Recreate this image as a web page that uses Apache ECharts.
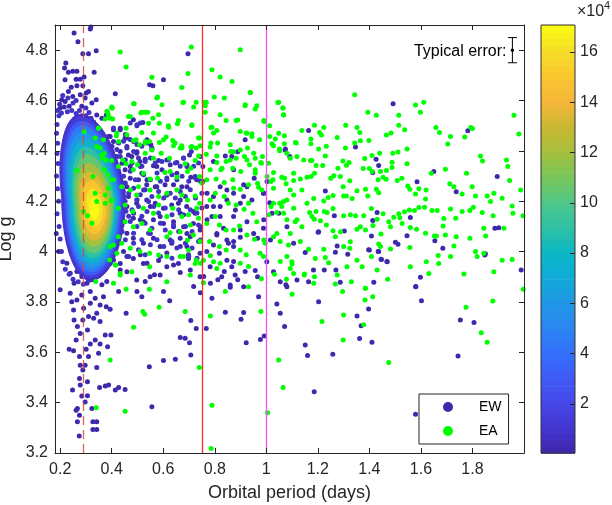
<!DOCTYPE html>
<html>
<head>
<meta charset="utf-8">
<script src="https://cdn.jsdelivr.net/npm/echarts@6/dist/echarts.min.js"></script>
<style>html,body{margin:0;padding:0;background:#fff}#c{width:612px;height:505px}</style>
</head>
<body>
<div id="c"></div>
<script>
// ---------- DATA ----------
const xTicks = [0.2,0.4,0.6,0.8,1,1.2,1.4,1.6,1.8];
const yTicks = [3.2,3.4,3.6,3.8,4,4.2,4.4,4.6,4.8];
const cbTicks = [2,4,6,8,10,12,14,16];
const xRange = [0.18, 2.0];
const yRange = [3.2, 4.9];
const cbRange = [0.05, 17.07];           // colour bar, x10^4
const periodLines = [0.29, 0.75, 1.0];   // days
const errX = [1.955], errY = [4.8], errHalf = [0.05];
const errLabel = 'Typical error:';

// density core of EW stars (x10^4), nested contours
const coreDensity = [0.8, 1.5, 3, 4.5, 6, 7.5, 9, 10.5, 12, 13.5, 15, 16.2, 17];
const coreCx  = [0.318,0.318,0.319,0.320,0.322,0.324,0.326,0.328,0.330,0.331,0.332,0.333,0.333];
const coreCy  = [4.215,4.215,4.212,4.210,4.205,4.200,4.195,4.190,4.185,4.180,4.177,4.175,4.172];
const coreRxL = [0.112,0.106,0.100,0.094,0.088,0.082,0.075,0.068,0.060,0.052,0.041,0.029,0.016];
const coreRxR = [0.136,0.126,0.118,0.110,0.102,0.094,0.085,0.078,0.068,0.058,0.045,0.032,0.018];
const coreRy  = [0.330,0.318,0.305,0.290,0.270,0.245,0.220,0.195,0.165,0.135,0.105,0.075,0.045];

// EW stars in the crowded zone next to the core (slightly higher density colour)
const ewDensePoints = [
[0.190,4.560],[0.195,4.540],[0.205,4.550],[0.228,4.555],[0.245,4.560],[0.262,4.548],[0.275,4.560],[0.300,4.570],[0.312,4.552],[0.320,4.530],[0.330,4.515],[0.300,4.540],[0.285,4.540],[0.250,4.590],[0.262,4.600],[0.230,4.610],[0.210,4.620],[0.198,4.585],[0.188,4.505],[0.186,4.470],[0.190,4.430],[0.188,4.390],[0.192,4.350],[0.186,4.300],[0.190,4.250],[0.194,4.200],[0.188,4.150],[0.196,4.100],[0.200,4.050],[0.205,4.000],[0.210,3.960],[0.220,3.930],[0.235,3.910],[0.250,3.890],[0.270,3.880],[0.290,3.870],[0.310,3.885],[0.330,3.890],[0.350,3.905],[0.365,3.925],[0.380,3.950],[0.395,3.980],[0.410,4.010],[0.425,4.040],[0.440,4.080],[0.450,4.120],[0.455,4.160],[0.452,4.200],[0.445,4.240],[0.430,4.270],[0.415,4.300],[0.400,4.330],[0.385,4.360],[0.370,4.390],[0.355,4.420],[0.340,4.450],[0.325,4.480],[0.312,4.505],
[0.407,4.491],[0.472,4.511],[0.498,4.504],[0.511,4.511],[0.453,4.465],
[0.427,4.431],[0.446,4.438],[0.472,4.445],[0.498,4.425],[0.517,4.418],[0.537,4.431],[0.556,4.405],[0.420,4.405],[0.401,4.418],[0.459,4.411],[0.485,4.398],[0.679,4.372],[0.709,4.398],
[0.433,4.378],[0.453,4.365],[0.479,4.352],[0.504,4.372],[0.530,4.358],[0.550,4.372],[0.569,4.352],[0.595,4.358],[0.621,4.365],[0.647,4.352],[0.666,4.339],[0.692,4.345],[0.718,4.339],[0.737,4.352],[0.407,4.345],[0.517,4.339],
[0.427,4.312],[0.446,4.299],[0.472,4.319],[0.492,4.285],[0.524,4.305],[0.550,4.285],[0.576,4.312],[0.589,4.279],[0.614,4.292],[0.634,4.305],[0.653,4.285],[0.673,4.299],[0.699,4.279],[0.725,4.292],[0.744,4.279],[0.453,4.272],
[0.433,4.246],[0.466,4.232],[0.485,4.252],[0.511,4.226],[0.530,4.246],[0.556,4.219],[0.582,4.239],[0.602,4.213],[0.627,4.232],[0.647,4.213],[0.666,4.239],[0.686,4.219],[0.705,4.246],[0.725,4.213],[0.750,4.232],[0.498,4.206],[0.543,4.199],
[0.453,4.179],[0.479,4.166],[0.504,4.179],[0.537,4.159],[0.563,4.179],[0.582,4.153],[0.608,4.173],[0.634,4.146],[0.660,4.166],[0.679,4.146],[0.705,4.166],[0.731,4.153],[0.750,4.173],[0.466,4.140],[0.517,4.140],
[0.440,4.106],[0.472,4.120],[0.498,4.100],[0.530,4.113],[0.556,4.093],[0.589,4.113],[0.608,4.086],[0.640,4.106],[0.660,4.080],[0.686,4.100],[0.712,4.080],[0.737,4.106],[0.485,4.073],[0.543,4.073],
[0.453,4.047],[0.485,4.033],[0.517,4.047],[0.550,4.027],[0.576,4.047],[0.602,4.020],[0.634,4.040],[0.653,4.014],[0.686,4.033],[0.712,4.014],[0.737,4.040],[0.504,4.007],
[0.466,3.980],[0.530,3.987],[0.589,3.980],[0.634,3.974],[0.699,3.980],[0.731,3.974]
];

const ewPoints = [
[0.254,4.868],[0.269,4.833],[0.288,4.786],[0.310,4.786],[0.317,4.884],[0.319,4.892],[0.340,4.798],[0.222,4.749],[0.217,4.729],[0.232,4.712],[0.249,4.716],[0.265,4.716],[0.219,4.683],[0.262,4.685],[0.278,4.685],[0.293,4.693],[0.332,4.712],[0.243,4.653],[0.265,4.659],[0.288,4.659],[0.232,4.636],[0.249,4.616],[0.301,4.630],[0.310,4.636],[0.278,4.623],[0.297,4.610],[0.206,4.603],[0.219,4.596],[0.235,4.577],[0.200,4.570],[0.216,4.574],[0.284,4.577],[0.340,4.603],[0.323,4.590],[0.342,4.543],[0.362,4.530],[0.379,4.543],[0.414,4.627],[0.498,4.500],[0.521,4.513],[0.547,4.663],[0.560,4.659],[0.601,4.683],[0.696,4.786],[0.407,4.484],[0.433,4.490],[0.452,4.451],[0.485,4.437],[0.537,4.444],[0.552,4.424],[0.394,4.457],[0.381,4.431],[0.349,4.477],
[0.754,4.278],[0.754,4.338],[0.841,4.380],[0.889,4.397],[0.918,4.444],[0.990,4.232],[1.003,4.278],[1.013,4.194],[1.074,4.407],[1.091,4.378],[0.185,4.072],
[0.744,4.378],[0.795,4.358],[0.873,4.325],[0.912,4.265],[0.944,4.205],[0.880,4.165],[0.821,4.139],[0.770,4.126],[0.724,4.152],[0.666,4.205],[0.614,4.225],[0.575,4.258],[0.537,4.285],[0.511,4.338],[0.478,4.378],[0.440,4.351],[0.420,4.298],[0.459,4.258],[0.498,4.205],[0.550,4.179],[0.588,4.139],[0.640,4.099],[0.692,4.072],[0.744,4.046],[0.795,4.026],[0.847,4.046],[0.899,4.086],[0.951,4.072],[0.990,4.126],[1.048,4.152],[1.080,4.099],[1.016,4.046],[1.106,4.033],
[0.459,4.417],[0.498,4.397],[0.420,4.378],[0.472,4.338],[0.401,4.338],[0.433,4.285],[0.517,4.311],[0.575,4.338],[0.614,4.364],[0.653,4.311],[0.692,4.338],[0.724,4.298],[0.614,4.285],[0.692,4.258],[0.770,4.232],[0.795,4.179],[0.847,4.205],[0.899,4.192],[0.821,4.258],[0.873,4.232],[0.666,4.152],[0.744,4.099],[0.808,4.072],[0.873,4.020],[0.692,4.020],[0.627,4.046],[0.550,4.072],[0.511,4.126],[0.485,4.152],[0.459,4.179],[0.433,4.205],[0.524,4.245],
[0.484,4.524],[0.459,4.451],[0.433,4.484],[0.407,4.437],[0.387,4.457],[0.556,4.411],[0.530,4.367],[0.562,4.341],[0.582,4.362],[0.595,4.325],[0.627,4.345],[0.653,4.354],[0.679,4.371],[0.702,4.384],[0.707,4.295],[0.730,4.285],[0.795,4.219],[0.769,4.179],[0.789,4.139],[0.808,4.066],[0.834,4.093],[0.853,4.033],[0.873,4.040],[0.899,4.057],[0.818,3.993],[0.847,3.966],[0.866,3.940],[0.879,3.907],[0.912,3.860],[1.002,3.960],[1.028,3.920],[1.054,3.880],[1.080,3.860],[1.119,3.887],[1.164,3.880],[1.183,3.927],[1.203,4.079],[1.164,4.481],[1.073,4.404],[0.953,4.291],[0.989,4.232],[1.022,4.152],[0.989,4.093],[0.966,4.053],[0.705,3.927],[0.743,3.900],[0.549,3.900],[0.523,3.953],[0.484,3.973],[0.446,4.000],[0.433,3.953],[0.614,3.940],[0.659,3.953],[0.698,3.973],[0.743,3.993],[0.769,4.000],[0.666,4.020],[0.633,4.033],[0.588,4.020],[0.562,4.053],[0.523,4.033],[0.484,4.053],[0.459,4.073],[0.433,4.099],[0.407,4.073],[0.413,4.139],[0.439,4.146],[0.484,4.132],[0.523,4.119],[0.562,4.126],[0.601,4.112],[0.640,4.119],[0.679,4.099],[0.717,4.112],[0.743,4.086],[0.705,4.059],[0.666,4.053],[0.465,4.219],[0.497,4.192],[0.536,4.205],[0.569,4.192],[0.601,4.172],[0.633,4.185],[0.659,4.192],[0.691,4.179],[0.717,4.159],[0.446,4.272],[0.472,4.291],[0.504,4.285],[0.536,4.265],[0.569,4.258],[0.607,4.265],[0.640,4.265],[0.672,4.258],[0.420,4.311],[0.452,4.325],[0.433,4.398],[0.465,4.384],[0.497,4.391],[0.510,4.358],[0.394,4.331],[0.381,4.285],[0.400,4.239],[0.374,3.986],[0.394,3.953],[0.459,3.920],[0.497,3.887],[0.588,3.907],[0.782,3.940],[0.827,3.900],[0.860,3.867],[0.966,3.900],[0.925,4.258],[0.912,4.219],[0.847,4.245],[0.821,4.179],[0.873,4.139],[0.925,4.119],[0.866,4.378],
[0.200,3.848],[0.239,3.835],[0.245,3.801],[0.254,3.874],[0.252,3.768],[0.254,3.728],[0.267,3.702],[0.278,3.675],[0.262,3.649],[0.235,3.612],[0.252,3.606],[0.275,3.583],[0.278,3.549],[0.288,3.530],[0.275,3.496],[0.278,3.470],[0.248,3.450],[0.284,3.426],[0.267,3.377],[0.262,3.370],[0.275,3.350],[0.267,3.324],[0.274,3.268],[0.306,3.427],[0.297,3.403],[0.323,3.377],[0.327,3.324],[0.342,3.324],[0.342,3.293],[0.327,3.293],[0.306,3.483],[0.297,3.549],[0.310,3.583],[0.301,3.612],[0.317,3.633],[0.336,3.649],[0.355,3.633],[0.349,3.596],[0.342,3.540],[0.384,3.622],[0.375,3.669],[0.397,3.669],[0.353,3.460],[0.375,3.466],[0.388,3.470],[0.414,3.450],[0.427,3.460],[0.452,3.452],[0.556,3.384],[0.546,3.543],[0.601,3.567],[0.647,3.572],[0.666,3.659],[0.685,3.656],[0.702,3.638],[0.707,3.589],[0.707,3.726],[0.728,3.695],[0.767,3.695],[0.789,3.815],[0.841,3.759],[0.902,3.731],[0.912,3.758],[0.922,3.638],[0.977,3.651],[0.992,3.665],[1.041,3.792],[1.054,3.755],[1.071,3.702],[1.076,3.868],
[0.427,3.841],[0.456,3.755],[0.498,3.841],[0.517,3.821],[0.530,3.881],[0.566,3.908],[0.601,3.841],[0.625,3.805],[0.640,3.947],[0.666,3.917],[0.718,3.861],[0.744,3.837],[0.757,3.901],[0.783,3.874],[0.812,3.888],[0.837,3.921],[0.860,3.858],[0.889,3.888],[0.918,3.921],[0.957,3.925],[0.970,3.821],[0.873,3.961],[0.537,3.954],[0.582,3.965],[0.459,3.980],[0.511,3.987],[0.614,3.994],[0.698,3.987],
[0.194,4.000],[0.226,3.954],[0.239,3.914],[0.265,3.921],[0.284,3.901],[0.304,3.874],[0.323,3.888],[0.342,3.921],[0.362,3.868],[0.381,3.881],[0.368,3.821],[0.355,3.788],[0.379,3.781],[0.394,3.771],[0.317,3.795],[0.291,3.775],[0.265,3.808],[0.310,3.742],[0.342,3.755],[0.330,3.735],[0.288,3.728],[0.306,3.689],[0.355,3.722],[0.317,3.841],[0.336,3.815],[0.284,3.828],[0.297,3.934],[0.381,3.941],[0.407,3.967],[0.433,3.927],
[1.151,3.996],[1.225,3.927],[1.270,3.927],[1.287,3.878],[1.203,3.801],[1.151,3.629],[1.160,3.587],[1.186,3.443],[1.258,3.592],[1.397,4.007],[1.434,4.000],[1.445,3.970],[1.468,3.961],[1.417,3.878],[1.397,3.772],[1.352,3.744],[1.368,3.705],[1.362,3.655],[1.410,3.640],[1.580,3.861],[1.598,3.898],[1.602,3.805],[1.753,3.728],[1.806,3.718],[1.744,3.585],[1.579,3.354],[1.850,3.991],[1.989,3.927],
[1.492,4.587],[1.346,4.415],[1.426,4.367],[1.436,4.342],[1.413,4.314],[1.650,4.318],[1.585,4.277],[1.896,4.298],[1.737,4.238],[1.229,4.241],[1.430,4.155],[1.264,4.142],[1.413,4.123],[1.559,4.135],[1.201,4.077],[1.303,4.082],[1.408,4.062],[1.546,4.063],[1.654,4.043],[1.501,4.037],[1.511,4.029],[1.685,4.013],[1.275,4.022],[1.268,3.997],[1.316,3.989],[1.400,4.006],[1.436,4.000],[1.447,3.969],[1.469,3.960],[1.848,3.986],[1.887,4.093],[1.902,4.095],[1.580,3.860],[1.782,4.480]
];

const eaPoints = [
[0.433,4.793],[0.456,4.733],[0.709,4.813],[0.899,4.802],[0.696,4.707],[0.789,4.722],[0.821,4.693],[0.867,4.676],[0.938,4.632],[0.556,4.692],[0.575,4.610],[0.676,4.592],[0.672,4.652],[0.718,4.574],[0.759,4.592],[0.763,4.579],[0.837,4.610],[0.889,4.523],[0.918,4.579],[0.957,4.566],[0.990,4.521],[1.013,4.500],[1.045,4.592],[1.065,4.570],[1.067,4.543],[1.048,4.470],[1.070,4.460],[1.113,4.433],[0.485,4.587],[0.401,4.570],[0.381,4.557],[0.394,4.530],[0.349,4.490],[0.465,4.537],[0.513,4.550],[0.530,4.553],[0.560,4.530],[0.621,4.494],[0.659,4.521],[0.711,4.501],[0.785,4.493],[0.808,4.481],[0.899,4.477],[0.925,4.470],[0.944,4.457],[0.974,4.444],[0.981,4.351],[1.009,4.351],[1.028,4.420],[1.052,4.401],[0.456,4.490],[0.418,4.460],[0.368,4.444],[0.342,4.417],[0.362,4.384],[0.427,4.437],[0.485,4.441],[0.508,4.424],[0.530,4.431],[0.601,4.444],[0.640,4.420],[0.672,4.411],[0.711,4.417],[0.737,4.451],[0.728,4.411],[0.785,4.431],[0.767,4.387],[0.808,4.380],[0.828,4.331],[0.873,4.397],[0.860,4.364],[0.915,4.378],[0.951,4.391],[0.957,4.311],[0.966,4.271],[1.003,4.298],[1.026,4.285],[1.071,4.291],[1.093,4.245],[1.106,4.311],[1.080,4.205],[1.052,4.192],[1.018,4.179],[1.067,4.152],[1.106,4.172],[1.093,4.072],[1.119,4.126],[1.041,4.072],[0.990,4.046],
[0.293,4.477],[0.327,4.298],[0.336,4.232],[0.342,4.199],[0.375,4.225],[0.375,4.192],[0.397,4.203],[0.306,4.142],[0.323,4.113],[0.290,4.159],[0.265,4.322],[0.355,4.411],[0.366,4.371],[0.371,4.325],[0.336,4.451],[0.400,4.285],[0.426,4.059],[0.407,4.026],[0.392,3.967],[0.416,3.947],[0.433,3.907],[0.400,4.574],[0.384,4.553],[0.349,4.491],[0.375,4.527],[0.404,4.527],
[0.578,4.614],[0.595,4.583],[0.487,4.587],[0.679,4.593],[0.728,4.593],[0.767,4.593],[0.798,4.614],[0.938,4.632],[0.918,4.583],[0.963,4.579],[1.048,4.593],[1.064,4.570],[1.067,4.544],[0.402,4.570],[0.387,4.544],[0.472,4.537],[0.517,4.553],[0.540,4.553],[0.582,4.544],[0.585,4.510],[0.543,4.510],[0.620,4.500],[0.655,4.508],[0.711,4.504],[0.763,4.553],[0.789,4.494],[0.821,4.544],[0.844,4.521],[0.883,4.521],[0.922,4.471],[0.944,4.468],[0.992,4.517],[1.013,4.457],[1.035,4.447],[1.070,4.428],[1.116,4.431],[1.138,4.481],[1.173,4.447],[1.173,4.428],
[0.420,4.471],[0.459,4.464],[0.495,4.444],[0.517,4.473],[0.562,4.471],[0.530,4.437],[0.547,4.437],[0.585,4.433],[0.611,4.455],[0.637,4.441],[0.646,4.431],[0.672,4.420],[0.707,4.415],[0.741,4.451],[0.743,4.420],[0.782,4.415],[0.795,4.471],[0.811,4.431],[0.860,4.424],[0.862,4.398],[0.899,4.404],[0.927,4.411],[0.883,4.371],[0.925,4.364],[0.957,4.371],[0.979,4.354],[0.985,4.378],[1.022,4.428],[1.051,4.407],[1.093,4.371],[1.080,4.391],[1.119,4.378],[1.145,4.364],[1.171,4.362],
[0.371,4.391],[0.378,4.364],[0.400,4.362],[0.426,4.338],[0.443,4.364],[0.456,4.349],[0.478,4.358],[0.484,4.325],[0.500,4.345],[0.530,4.391],[0.556,4.404],[0.562,4.371],[0.592,4.391],[0.624,4.371],[0.666,4.411],[0.685,4.349],[0.707,4.331],[0.724,4.362],[0.737,4.380],[0.782,4.325],[0.808,4.354],[0.824,4.325],[0.844,4.358],[0.870,4.331],[0.901,4.318],[0.935,4.345],[0.957,4.325],[1.028,4.314],[1.060,4.295],[1.077,4.269],[1.106,4.282],[1.132,4.288],[1.158,4.295],[1.018,4.278],
[0.523,4.311],[0.549,4.288],[0.578,4.291],[0.607,4.314],[0.627,4.318],[0.653,4.295],[0.694,4.318],[0.741,4.298],[0.750,4.272],[0.769,4.285],[0.805,4.288],[0.837,4.274],[0.870,4.285],[0.873,4.252],[0.899,4.248],[0.931,4.265],[0.970,4.256],[0.983,4.245],[1.028,4.252],[1.067,4.199],[1.060,4.179],[1.106,4.225],[1.138,4.245],[1.158,4.192],[1.168,4.155],[1.186,4.128],
[0.386,4.305],[0.407,4.285],[0.387,4.252],[0.439,4.258],[0.472,4.245],[0.504,4.258],[0.497,4.225],[0.549,4.245],[0.582,4.219],[0.614,4.232],[0.653,4.245],[0.672,4.225],[0.694,4.205],[0.724,4.221],[0.730,4.172],[0.741,4.192],[0.782,4.205],[0.802,4.232],[0.837,4.219],[0.853,4.192],[0.883,4.185],[0.914,4.168],[0.931,4.192],[0.948,4.152],[0.963,4.119],[1.028,4.192],[1.041,4.155],[1.009,4.146],[1.080,4.126],[1.112,4.119],[1.138,4.099],
[0.400,4.205],[0.426,4.172],[0.452,4.185],[0.482,4.159],[0.523,4.172],[0.562,4.152],[0.582,4.185],[0.614,4.139],[0.637,4.172],[0.672,4.139],[0.698,4.146],[0.705,4.106],[0.737,4.132],[0.769,4.112],[0.802,4.139],[0.818,4.106],[0.844,4.086],[0.873,4.086],[0.896,4.102],[0.925,4.066],[0.954,4.049],[0.996,4.033],[1.028,4.059],[1.054,4.040],[1.086,4.026],[1.132,4.040],[1.164,4.009],[1.099,3.960],[1.093,3.933],[1.106,3.913],[1.147,3.907],
[0.452,4.119],[0.484,4.099],[0.517,4.112],[0.549,4.086],[0.614,4.059],[0.627,4.075],[0.666,4.079],[0.694,4.046],[0.717,4.066],[0.743,4.040],[0.780,4.040],[0.818,4.020],[0.844,4.006],[0.899,4.006],[0.976,3.993],[0.989,3.980],[0.394,4.020],[0.420,3.993],[0.439,4.033],[0.472,4.013],[0.510,4.000],[0.547,3.993],[0.582,3.986],[0.614,3.980],[0.666,3.980],[0.698,4.006],[0.724,3.953],[0.756,3.966],[0.795,3.960],[0.808,3.933],[0.433,3.913],[0.478,3.920],[0.547,3.940],[0.614,3.880],[0.705,3.907],[0.756,3.876],[0.931,3.860],[0.407,3.874],
[1.343,4.623],[1.394,4.553],[1.427,4.542],[1.514,4.542],[1.579,4.582],[1.611,4.593],[1.598,4.553],[1.961,4.542],[1.980,4.467],[1.187,4.502],[1.223,4.493],[1.207,4.473],[1.214,4.463],[1.275,4.453],[1.308,4.502],[1.352,4.493],[1.363,4.473],[1.343,4.431],[1.365,4.440],[1.398,4.441],[1.466,4.463],[1.484,4.471],[1.514,4.502],[1.537,4.484],[1.658,4.493],[1.672,4.473],[1.715,4.457],[1.770,4.455],[1.794,4.493],[1.800,4.489],[1.704,4.427],
[1.233,4.418],[1.203,4.407],[1.229,4.380],[1.307,4.411],[1.382,4.370],[1.410,4.382],[1.440,4.391],[1.491,4.391],[1.511,4.396],[1.546,4.407],[1.177,4.362],[1.193,4.342],[1.219,4.342],[1.278,4.331],[1.297,4.360],[1.311,4.343],[1.321,4.354],[1.376,4.330],[1.400,4.330],[1.411,4.318],[1.443,4.318],[1.453,4.295],[1.466,4.322],[1.488,4.355],[1.488,4.334],[1.546,4.349],[1.187,4.311],[1.174,4.298],[1.250,4.291],[1.262,4.301],[1.287,4.298],[1.324,4.281],[1.298,4.258],[1.300,4.221],[1.311,4.221],[1.333,4.211],[1.352,4.242],[1.385,4.248],[1.394,4.221],[1.427,4.248],[1.436,4.234],[1.434,4.285],[1.465,4.287],[1.508,4.282],[1.526,4.291],[1.549,4.261],[1.557,4.248],[1.592,4.250],[1.579,4.229],[1.620,4.245],[1.618,4.209],[1.640,4.311],[1.695,4.327],[1.712,4.269],[1.728,4.258],[1.760,4.229],[1.777,4.311],[1.799,4.258],[1.812,4.221],[1.831,4.380],[1.839,4.360],[1.932,4.364],[1.937,4.338],[1.944,4.282],[1.987,4.245],[1.883,4.232],[1.857,4.221],[1.915,4.212],[1.870,4.199],[1.954,4.181],[1.957,4.152],[1.996,4.142],
[1.184,4.211],[1.223,4.201],[1.240,4.215],[1.259,4.223],[1.193,4.159],[1.177,4.139],[1.225,4.159],[1.236,4.155],[1.259,4.171],[1.210,4.122],[1.233,4.106],[1.259,4.083],[1.300,4.142],[1.326,4.146],[1.346,4.142],[1.378,4.142],[1.408,4.171],[1.430,4.128],[1.453,4.150],[1.475,4.119],[1.495,4.136],[1.514,4.150],[1.536,4.158],[1.555,4.165],[1.575,4.163],[1.592,4.175],[1.614,4.176],[1.643,4.163],[1.663,4.163],[1.689,4.131],[1.715,4.169],[1.735,4.132],[1.760,4.159],[1.790,4.163],[1.803,4.176],[1.838,4.155],[1.880,4.142],[1.844,4.093],[1.851,4.062],[1.922,4.093],
[1.352,4.089],[1.365,4.099],[1.385,4.086],[1.414,4.104],[1.445,4.070],[1.436,4.030],[1.443,4.020],[1.482,4.099],[1.518,4.134],[1.527,4.112],[1.559,4.096],[1.583,4.089],[1.618,4.073],[1.652,4.062],[1.660,4.062],[1.686,4.102],[1.695,4.066],[1.728,4.022],[1.737,4.059],[1.790,4.053],[1.812,4.000],[1.818,3.980],[1.844,3.993],[1.883,3.920],[1.915,3.966],[1.954,3.969],[1.268,4.059],[1.288,4.079],[1.326,4.039],[1.324,4.013],[1.300,4.020],[1.223,4.009],[1.229,3.977],[1.190,3.973],[1.242,3.956],[1.313,3.940],[1.352,3.966],[1.372,3.940],[1.408,3.980],[1.430,3.927],[1.482,4.010],[1.557,4.016],[1.559,3.940],[1.621,3.960],[1.669,3.953],[1.667,3.984],[1.715,3.980],[1.767,3.911],[1.631,3.913],[1.184,3.874],[1.187,3.900],[1.275,3.907],[1.330,3.880],[1.385,3.854],[1.471,3.890],[1.268,3.871],
[0.456,3.850],[0.546,3.850],[0.521,3.762],[0.528,3.751],[0.485,3.699],[0.584,3.779],[0.685,3.762],[0.841,3.841],[0.783,3.744],[0.979,3.762],[1.100,3.831],[1.048,3.569],[1.065,3.460],[1.005,3.360],[0.789,3.390],[0.786,3.218],[0.740,3.540],[0.394,3.569],[0.340,3.380],[0.452,3.366],
[0.414,3.947],[0.338,3.881],[0.679,3.980],[0.728,3.967],[0.744,3.954],[0.783,3.983],[0.821,3.954],[0.899,3.954],[0.922,3.987],[0.931,3.941],[0.981,3.892],[1.032,3.910],[1.054,3.961],[1.080,3.980],[1.100,3.951],[1.078,3.890],
[1.296,3.841],[1.384,3.854],[1.413,3.821],[1.383,3.808],[1.378,3.709],[1.300,3.748],[1.298,3.649],[1.216,3.722],[1.475,3.559],[1.775,3.779],[1.879,3.804],[1.834,3.678],[1.857,3.640],[1.997,3.850],[1.148,3.911]
];

// ---------- STYLE ----------
const FONT = 'Liberation Sans, Arial, Helvetica, sans-serif';
const TXT = '#262626';
const EW_COLOR = '#3E29AC';
const EW_DENSE_COLOR = '#4034C4';
const EA_COLOR = '#00FF00';
const coreSkew = -0.12;
const parulaStops = [
 [0.05,'#3E26A8'],[1,'#4435D0'],[2,'#4646E6'],[3,'#4059F6'],[4,'#336FFA'],[5,'#2B85F2'],
 [6,'#2196E6'],[7,'#12AADA'],[8,'#0BB7C4'],[9,'#2DC1A6'],[10,'#4DC78A'],[11,'#76C65A'],
 [12,'#A4C03F'],[13,'#C8B832'],[14,'#F4B63A'],[15,'#FCC530'],[16,'#F5DC28'],[17.07,'#F9FB14']
];
function hex2rgb(h){return [parseInt(h.substr(1,2),16),parseInt(h.substr(3,2),16),parseInt(h.substr(5,2),16)];}
function parula(v){
  if (v<=parulaStops[0][0]) return parulaStops[0][1];
  for (let i=1;i<parulaStops.length;i++){
    if (v<=parulaStops[i][0]){
      const a=parulaStops[i-1], b=parulaStops[i];
      const t=(v-a[0])/(b[0]-a[0]);
      const ca=hex2rgb(a[1]), cb=hex2rgb(b[1]);
      const c=ca.map((x,k)=>Math.round(x+(cb[k]-x)*t));
      return 'rgb('+c.join(',')+')';
    }
  }
  return parulaStops[parulaStops.length-1][1];
}

const chart = echarts.init(document.getElementById('c'), null, {renderer:'canvas'});

function mainAxisCommon(){
  return {
    type:'value', gridIndex:0, z:10,
    axisLine:{show:true,onZero:false,lineStyle:{color:TXT,width:1}},
    splitLine:{show:false}
  };
}
function ticks(vals){ return {show:true,inside:true,length:5,lineStyle:{color:TXT},customValues:vals}; }

const option = {
  animation:false,
  backgroundColor:'#ffffff',
  textStyle:{fontFamily:FONT},
  grid:[
    {left:55, top:25, width:469, height:428, containLabel:false, outerBoundsMode:'none'},
    {left:541, top:25, width:34, height:428, containLabel:false, outerBoundsMode:'none'}
  ],
  legend:{
    data:['EW','EA'], orient:'vertical', left:419, top:394,
    itemWidth:10, itemHeight:10, itemGap:10, icon:'circle',
    padding:[6,7,6,24], borderColor:TXT, borderWidth:1, backgroundColor:'#fff',
    textStyle:{fontSize:14,color:'#000',fontFamily:FONT,padding:[0,0,0,21]}, z:20, selectedMode:false
  },
  xAxis:[
    Object.assign(mainAxisCommon(),{
      position:'bottom', min:xRange[0], max:xRange[1], axisTick:ticks(xTicks),
      axisLabel:{show:true,customValues:xTicks,fontSize:16,color:TXT,margin:9,fontFamily:FONT},
      name:'Orbital period (days)', nameLocation:'middle', nameGap:31,
      nameTextStyle:{fontSize:18,color:TXT,fontFamily:FONT}
    }),
    Object.assign(mainAxisCommon(),{
      position:'top', min:xRange[0], max:xRange[1], axisTick:ticks(xTicks), axisLabel:{show:false}
    }),
    {type:'value', gridIndex:1, min:0, max:1, show:false}
  ],
  yAxis:[
    Object.assign(mainAxisCommon(),{
      position:'left', min:yRange[0], max:yRange[1], axisTick:ticks(yTicks),
      axisLabel:{show:true,customValues:yTicks,fontSize:16,color:TXT,margin:7,fontFamily:FONT},
      name:'Log g', nameLocation:'middle', nameGap:34,
      nameTextStyle:{fontSize:18,color:TXT,fontFamily:FONT}
    }),
    Object.assign(mainAxisCommon(),{
      position:'right', min:yRange[0], max:yRange[1], axisTick:ticks(yTicks), axisLabel:{show:false}
    }),
    {
      type:'value', gridIndex:1, position:'right', min:cbRange[0], max:cbRange[1], z:10,
      axisLine:{show:false,onZero:false}, axisTick:ticks(cbTicks),
      axisLabel:{show:true,customValues:cbTicks,fontSize:16,color:TXT,margin:5,fontFamily:FONT},
      splitLine:{show:false}
    }
  ],
  graphic:[
    {type:'text', left:577, top:4, style:{text:'×10', fontSize:16, fill:TXT, fontFamily:FONT}},
    {type:'text', left:604, top:0, style:{text:'4', fontSize:11, fill:TXT, fontFamily:FONT}}
  ],
  series:[
    {
      name:'EW', type:'scatter', xAxisIndex:0, yAxisIndex:0, z:2,
      symbol:'circle', symbolSize:5, data:ewPoints,
      itemStyle:{color:EW_COLOR, opacity:1}, silent:true
    },
    {
      name:'EW', type:'scatter', xAxisIndex:0, yAxisIndex:0, z:2,
      symbol:'circle', symbolSize:5, data:ewDensePoints,
      itemStyle:{color:EW_DENSE_COLOR, opacity:1}, silent:true
    },
    {
      name:'EW density', type:'custom', xAxisIndex:0, yAxisIndex:0, z:3, silent:true, clip:true,
      data: coreDensity.map((d,i)=>[coreCx[i],coreCy[i],coreRxL[i],coreRxR[i],coreRy[i],d]),
      dimensions:['x','y','rl','rr','ry','d'],
      encode:{x:0,y:1},
      renderItem:function(params, api){
        const cx=api.value(0), cy=api.value(1), rl=api.value(2), rr=api.value(3), ry=api.value(4), d=api.value(5);
        const pts=[]; const N=90;
        for (let k=0;k<N;k++){
          const t=k/N*2*Math.PI, c=Math.cos(t), s=Math.sin(t);
          const x=cx+(c<0?rl:rr)*c+(s>0?coreSkew*ry*s:0);
          const y=cy+ry*s;
          pts.push(api.coord([x,y]));
        }
        return {type:'polygon', shape:{points:pts, smooth:0.3}, style:{fill:parula(d), stroke:parula(d), lineWidth:1}};
      }
    },
    {
      name:'EA', type:'scatter', xAxisIndex:0, yAxisIndex:0, z:4,
      symbol:'circle', symbolSize:5, data:eaPoints,
      itemStyle:{color:EA_COLOR, opacity:1}, silent:true,
      markLine:{
        silent:true, symbol:['none','none'], label:{show:false}, z:6,
        data:[
          {xAxis:periodLines[0], lineStyle:{color:'#E0443A', type:[9,5], width:1.3, opacity:0.85}},
          {xAxis:periodLines[1], lineStyle:{color:'#FF2B2B', type:'solid', width:1.3}},
          {xAxis:periodLines[2], lineStyle:{color:'#FF4DFF', type:'solid', width:1.3}}
        ]
      }
    },
    {
      name:'error', type:'custom', xAxisIndex:0, yAxisIndex:0, z:7, silent:true, clip:false,
      data: errX.map((x,i)=>[x,errY[i],errHalf[i]]),
      renderItem:function(params, api){
        const x=api.value(0), y=api.value(1), h=api.value(2);
        const top=api.coord([x,y+h]), bot=api.coord([x,y-h]), mid=api.coord([x,y]);
        const st={stroke:'#000', lineWidth:1};
        return {type:'group', children:[
          {type:'line', shape:{x1:top[0],y1:top[1],x2:bot[0],y2:bot[1]}, style:st},
          {type:'line', shape:{x1:top[0]-4.5,y1:top[1],x2:top[0]+4.5,y2:top[1]}, style:st},
          {type:'line', shape:{x1:bot[0]-4.5,y1:bot[1],x2:bot[0]+4.5,y2:bot[1]}, style:st},
          {type:'circle', shape:{cx:mid[0],cy:mid[1],r:1.7}, style:{fill:'#000'}},
          {type:'text', x:mid[0]-6, y:mid[1]+1, style:{text:errLabel, align:'right', verticalAlign:'middle', fontSize:16, fontFamily:FONT, fill:'#000'}}
        ]};
      }
    },
    {
      name:'colorbar', type:'custom', xAxisIndex:2, yAxisIndex:2, z:2, silent:true, clip:false,
      data:[[cbRange[0], cbRange[1]]],
      encode:{y:[0,1]},
      renderItem:function(params, api){
        const lo=api.value(0), hi=api.value(1);
        const children=[]; const n=64;
        for (let k=0;k<n;k++){
          const v0=lo+(hi-lo)*k/n, v1=lo+(hi-lo)*(k+1)/n;
          const a=api.coord([0,v0]), b=api.coord([1,v1]);
          children.push({type:'rect', shape:{x:a[0], y:b[1], width:b[0]-a[0], height:a[1]-b[1]+0.7}, style:{fill:parula((v0+v1)/2)}});
        }
        const p0=api.coord([0,lo]), p1=api.coord([1,hi]);
        children.push({type:'rect', shape:{x:p0[0], y:p1[1], width:p1[0]-p0[0], height:p0[1]-p1[1]}, style:{fill:'none', stroke:'#333', lineWidth:1}});
        return {type:'group', children};
      }
    }
  ]
};
chart.setOption(option);
</script>
</body>
</html>
